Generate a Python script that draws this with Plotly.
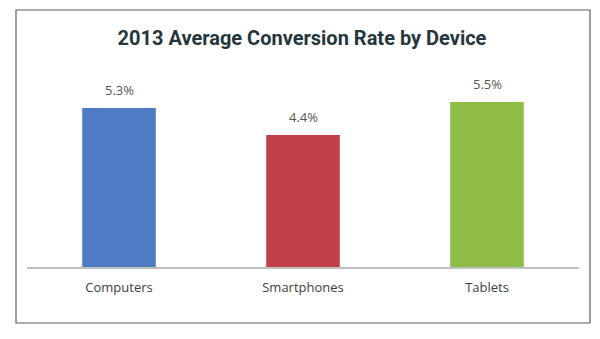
import plotly.graph_objects as go

devices = ["Computers", "Smartphones", "Tablets"]
conversion_rate = [5.3, 4.4, 5.5]
bar_colors = ["#4f7bc5", "#c0404a", "#8dbd46"]
value_labels = [f"{v:.1f}%" for v in conversion_rate]

fig = go.Figure(
    go.Bar(
        x=devices,
        y=conversion_rate,
        marker=dict(color=bar_colors, line=dict(width=0)),
        hoverinfo="skip",
    )
)

# value labels sit a little above each bar
for d, v, t in zip(devices, conversion_rate, value_labels):
    fig.add_annotation(
        x=d, y=v, text=t, showarrow=False,
        yanchor="bottom", yshift=7,
        font=dict(family="Open Sans, Lato, sans-serif", size=13, color="#555555"),
    )

# plot area spans x 27..579 px, y 87..267 px
L, R, T, B = 27, 21, 87, 72
W, H = 600, 339
pw, ph = W - L - R, H - T - B

def px_x(p):
    return (p - L) / pw

def px_y(p):
    return (H - B - p) / ph

fig.add_shape(
    type="rect", xref="paper", yref="paper",
    x0=px_x(16), x1=px_x(590), y0=px_y(323), y1=px_y(10),
    line=dict(color="#5e5e5e", width=1.2), fillcolor="rgba(0,0,0,0)",
    layer="below",
)

fig.update_layout(
    width=W, height=H,
    margin=dict(l=L, r=R, t=T, b=B),
    paper_bgcolor="white", plot_bgcolor="white",
    bargap=0.6,
    showlegend=False,
    title=dict(
        text="<b>2013 Average Conversion Rate by Device</b>",
        x=px_x(302), xref="paper", xanchor="center",
        y=1 - 38 / H, yref="container", yanchor="middle",
        font=dict(family="Liberation Sans Narrow, Roboto, sans-serif", size=20, color="#25363d"),
    ),
    xaxis=dict(
        showline=True, linecolor="#c0c0c0", linewidth=1.5,
        ticks="", showgrid=False,
        tickfont=dict(family="Open Sans, Lato, sans-serif", size=13, color="#404040"),
        ticklabelstandoff=8,
    ),
    yaxis=dict(visible=False, range=[0, 6], showgrid=False, zeroline=False),
)

fig.write_html("out.html")
